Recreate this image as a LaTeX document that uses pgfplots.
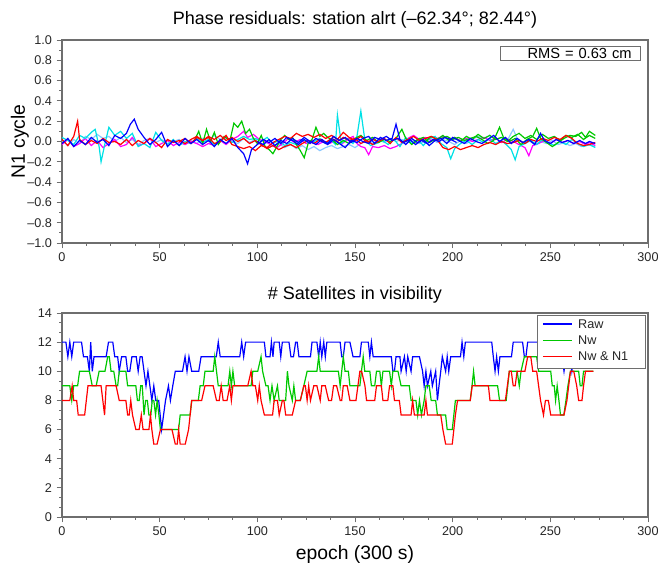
\documentclass[border=0pt]{standalone}
\usepackage{fontspec}
\setmainfont{Liberation Sans}
\usepackage{pgfplots}
\pgfplotsset{compat=1.18}

\definecolor{resBlue}{RGB}{0,0,255}
\definecolor{resRed}{RGB}{255,0,0}
\definecolor{resGreen}{RGB}{0,200,0}
\definecolor{resCyan}{RGB}{0,225,230}
\definecolor{resMagenta}{RGB}{255,0,255}
\definecolor{resSky}{RGB}{140,200,255}
\definecolor{frameGray}{RGB}{110,110,110}

\pgfplotsset{
  scilab/.style={
    scale only axis,
    width=439.5pt,
    xmin=0, xmax=300,
    xtick={0,50,...,300},
    minor x tick num=3,
    tick align=outside,
    xtick pos=left, ytick pos=left,
    major tick length=4pt, minor tick length=2.2pt,
    axis line style={frameGray, line width=1pt},
    tick style={frameGray, line width=0.7pt},
    tick label style={font=\fontsize{9.5}{10}\selectfont, text=black!85},
    /pgf/number format/assume math mode=true,
    title style={font=\fontsize{13.5}{14}\selectfont, anchor=center, yshift=0pt},
    label style={font=\fontsize{14.5}{15}\selectfont},
    clip=true,
  },
}

\begin{document}
\begin{tikzpicture}
% ---------------- top: phase residuals ----------------
\begin{axis}[
  scilab,
  at={(46.5pt,242.25pt)}, anchor=south west,
  height=152.25pt,
  ymin=-1, ymax=1,
  ytick={-1,-0.8,-0.6,-0.4,-0.2,0,0.2,0.4,0.6,0.8,1},
  yticklabels={–1.0,–0.8,–0.6,–0.4,–0.2,0.0,0.2,0.4,0.6,0.8,1.0},
  minor y tick num=1,
  title={Phase residuals: station alrt (–62.34°; 82.44°)},
  title style={at={(axis description cs:0.5,1.059)}},
  ylabel={N1 cycle},
  ylabel style={at={(axis description cs:-0.0717,0.5)}, anchor=center},
  every axis plot/.append style={line width=0.9pt},
]
\addplot[resSky] coordinates {
(0,0.01)(3,-0.04)(6,0.02)(9,-0.02)(12,0.05)(15,0.02)(18,0.07)(21,0.03)(24,0.05)(27,0.0)
(30,0.04)(33,-0.01)(36,0.02)(39,-0.03)(42,0.01)(45,0.03)(48,-0.01)(51,0.02)(54,-0.02)(57,0.0)
(60,0.02)(63,-0.03)(66,0.01)(69,-0.02)(72,0.03)(75,0.0)(78,0.06)(81,0.02)(84,0.04)(87,0.0)
(90,-0.02)(93,0.03)(96,-0.01)(99,0.02)(102,-0.04)(105,-0.01)(108,-0.05)(111,-0.02)(114,-0.06)(117,-0.03)
(120,-0.07)(123,-0.04)(126,-0.08)(129,-0.05)(132,-0.09)(135,-0.06)(138,-0.04)(141,-0.07)(144,-0.05)(147,-0.03)
(150,-0.06)(153,-0.02)(156,0.01)(159,-0.02)(162,0.02)(165,-0.01)(168,0.03)(171,0.0)(174,0.02)(177,-0.01)
(180,0.01)(183,-0.02)(186,0.0)(189,0.03)(192,-0.01)(195,0.02)(198,0.0)(201,-0.03)(204,0.01)(207,-0.02)
(210,0.02)(213,0.05)(216,0.03)(219,0.06)(222,0.02)(225,0.04)(228,0.01)(231,0.12)(233,0.03)(236,-0.02)
(239,0.01)(242,-0.03)(245,0.0)(248,-0.02)(251,0.01)(254,-0.03)(257,-0.01)(260,-0.04)(263,-0.02)(266,-0.05)
(269,-0.03)(273,-0.05)
};
\addplot[resMagenta] coordinates {
(0,-0.03)(3,0.02)(6,-0.05)(9,-0.02)(12,0.03)(15,-0.04)(18,0.01)(21,-0.06)(24,-0.02)(27,0.02)
(30,-0.05)(33,-0.03)(36,0.04)(39,-0.04)(42,-0.02)(45,0.03)(48,-0.05)(51,-0.02)(54,0.01)(57,-0.04)
(60,-0.01)(63,-0.03)(66,0.0)(69,-0.02)(72,-0.05)(75,-0.02)(78,-0.04)(81,0.01)(84,-0.03)(87,0.02)
(90,0.05)(93,0.1)(95,0.04)(98,0.07)(101,0.02)(104,0.0)(107,-0.03)(110,-0.06)(113,-0.02)(116,0.03)
(119,-0.01)(122,0.02)(125,-0.02)(128,0.01)(131,-0.03)(134,0.0)(137,-0.02)(140,0.01)(143,-0.03)(146,0.02)
(149,0.05)(151,-0.02)(153,-0.05)(155,-0.06)(157,-0.13)(159,-0.05)(162,-0.06)(165,-0.04)(168,-0.07)(171,-0.05)
(174,-0.02)(177,0.03)(180,0.06)(183,0.02)(186,0.04)(189,0.01)(192,0.03)(195,0.05)(198,0.02)(201,0.04)
(204,0.01)(207,0.03)(210,0.0)(213,0.02)(216,0.04)(219,0.01)(222,0.03)(225,-0.01)(228,0.02)(231,0.0)
(234,-0.03)(237,-0.06)(239,-0.14)(241,-0.04)(244,-0.02)(247,0.01)(250,-0.02)(253,0.02)(256,-0.01)(259,0.01)
(262,-0.02)(265,0.0)(268,-0.03)(270,-0.01)(273,-0.04)
};
\addplot[resCyan] coordinates {
(0,0.04)(3,0.01)(6,-0.03)(9,0.06)(12,0.03)(15,0.09)(17,0.12)(19,-0.05)(20,-0.2)(22,-0.02)
(24,0.14)(27,0.06)(30,0.1)(33,0.03)(36,0.08)(39,-0.05)(42,-0.02)(45,-0.06)(48,0.09)(51,0.01)
(54,-0.03)(57,0.02)(60,-0.04)(63,0.0)(66,-0.02)(69,0.03)(72,-0.01)(75,0.02)(78,-0.03)(81,0.01)
(84,0.04)(87,-0.01)(90,0.02)(93,0.05)(96,0.02)(99,0.03)(102,0.0)(105,0.04)(108,-0.02)(111,0.01)
(114,-0.04)(117,-0.01)(120,-0.03)(123,0.02)(126,-0.01)(129,0.0)(132,0.03)(135,-0.02)(138,0.01)(140,-0.03)
(141,0.26)(143,-0.02)(146,0.03)(149,-0.02)(151,0.05)(153,0.3)(155,0.02)(158,-0.04)(161,-0.02)(164,0.01)
(167,-0.03)(170,0.02)(173,-0.05)(176,0.04)(179,-0.02)(182,0.02)(185,-0.04)(188,0.03)(191,0.05)(194,-0.02)
(197,-0.06)(199,-0.17)(201,-0.07)(204,-0.02)(207,0.01)(210,-0.03)(213,0.02)(216,-0.01)(219,0.03)(222,-0.02)
(225,0.01)(228,-0.04)(230,-0.08)(232,-0.18)(234,-0.05)(237,-0.02)(240,0.01)(243,-0.03)(246,0.02)(249,-0.01)
(252,-0.04)(255,0.0)(258,-0.03)(261,0.02)(264,-0.02)(267,-0.05)(270,-0.03)(273,-0.06)
};
\addplot[resGreen] coordinates {
(68,0.02)(70,0.1)(72,-0.02)(74,0.12)(76,0.0)(78,0.09)(80,-0.03)(83,0.05)(86,0.01)(88,0.18)
(90,0.14)(92,0.2)(94,0.08)(96,0.12)(98,0.03)(100,-0.02)(102,0.06)(104,-0.05)(106,-0.08)(108,-0.12)
(110,-0.05)(112,0.02)(114,0.06)(116,0.02)(118,0.04)(120,-0.03)(122,-0.09)(124,-0.16)(126,-0.02)(128,0.02)
(130,0.14)(132,0.05)(134,0.08)(136,0.04)(138,0.02)(141,-0.03)(144,0.01)(147,-0.02)(150,0.03)(153,0.06)
(156,0.01)(159,0.04)(162,-0.01)(165,0.02)(168,0.0)(171,0.03)(174,0.12)(176,0.03)(179,-0.03)(182,0.02)
(185,0.04)(188,-0.01)(191,0.02)(194,0.03)(197,0.05)(200,0.02)(203,0.04)(206,0.01)(209,0.03)(212,0.05)
(215,0.02)(218,-0.02)(221,0.01)(224,0.14)(226,0.04)(229,0.0)(232,0.03)(235,-0.03)(238,0.02)(241,0.05)
(243,0.13)(245,0.03)(248,-0.01)(251,-0.05)(254,-0.01)(257,0.03)(260,0.06)(263,0.05)(266,0.09)(268,0.04)
(270,0.1)(273,0.06)
};
\addplot[resGreen] coordinates {
(180,-0.02)(183,0.03)(186,0.0)(189,0.05)(192,0.02)(195,0.06)(198,0.01)(201,0.04)(204,0.0)(207,0.05)
(210,0.02)(213,0.07)(216,0.03)(219,0.06)(222,0.02)(225,0.04)(228,0.0)(231,0.05)(234,0.08)(237,0.03)
(240,0.06)(243,0.02)(246,0.07)(249,0.03)(252,0.05)(255,0.01)(258,0.06)(261,0.04)(264,0.07)(267,0.02)
(270,0.06)(273,0.03)
};
\addplot[resRed] coordinates {
(0,0.02)(3,-0.04)(6,0.05)(8,0.2)(9,0.02)(12,-0.03)(15,0.01)(18,-0.02)(21,0.03)(24,-0.01)
(27,0.0)(30,-0.03)(33,0.02)(36,-0.04)(39,0.01)(42,-0.02)(45,0.03)(48,-0.01)(51,-0.06)(54,0.02)
(57,-0.01)(60,0.01)(63,-0.02)(66,0.02)(69,0.05)(72,0.01)(75,0.04)(78,-0.02)(81,0.0)(84,0.06)
(87,-0.03)(90,-0.05)(93,-0.07)(96,-0.05)(99,-0.09)(102,-0.04)(105,-0.06)(108,-0.01)(111,0.02)(114,0.05)
(117,0.03)(120,0.08)(123,0.05)(126,0.07)(129,0.04)(132,0.07)(135,0.03)(138,0.06)(141,0.02)(144,0.09)
(147,0.04)(150,0.01)(153,0.05)(156,-0.01)(159,0.02)(162,0.0)(165,0.03)(168,-0.02)(171,0.04)(174,-0.01)
(177,0.02)(180,0.05)(183,0.01)(186,0.03)(189,0.05)(192,0.02)(195,-0.06)(198,-0.08)(201,-0.05)(204,-0.08)
(207,-0.06)(210,-0.04)(213,-0.06)(216,-0.03)(219,-0.01)(222,-0.03)(225,0.0)(228,-0.02)(231,-0.01)(234,0.01)
(237,-0.02)(240,0.02)(243,0.0)(246,0.03)(249,0.01)(252,0.04)(255,0.02)(258,0.06)(261,0.03)(264,-0.02)
(267,-0.04)(270,-0.03)(273,-0.01)
};
\addplot[resRed] coordinates {
(60,0.0)(63,0.03)(66,-0.02)(69,0.04)(72,0.01)(75,0.05)(78,0.02)(81,0.06)(84,0.01)(87,0.04)
(90,0.0)(93,0.03)(96,-0.02)(99,0.01)(102,-0.03)(105,-0.07)(108,-0.04)(111,-0.08)(114,-0.05)(117,-0.03)
(120,-0.06)(123,-0.02)(126,0.01)(129,-0.02)(132,0.02)(135,-0.01)(138,0.03)(141,0.0)(144,0.04)(147,0.01)
(150,0.03)(153,-0.02)(156,0.01)(159,-0.03)(162,0.0)
};
\addplot[resBlue] coordinates {
(100,0.0)(103,-0.03)(106,0.02)(109,-0.04)(112,0.01)(115,-0.02)(118,0.03)(121,-0.01)(124,0.04)(127,0.0)
(130,-0.03)(133,0.02)(136,-0.02)(139,0.05)(142,0.01)(145,0.04)(148,-0.01)(151,0.03)(154,0.0)(157,-0.02)
(160,0.04)(163,0.02)(166,0.05)(169,0.01)(172,0.03)(175,-0.01)(178,0.02)(181,-0.03)(184,0.01)(187,-0.02)
(190,0.02)(193,0.0)(196,0.04)(199,0.02)(202,-0.01)
};
\addplot[resBlue] coordinates {
(0,-0.02)(3,0.03)(6,-0.05)(9,0.01)(12,-0.03)(15,0.04)(18,-0.01)(21,0.02)(24,-0.04)(27,0.06)
(30,0.03)(33,0.08)(35,0.17)(37,0.22)(39,0.12)(42,0.04)(45,-0.03)(48,0.02)(51,0.09)(54,-0.05)
(57,0.01)(60,-0.04)(63,0.03)(66,-0.02)(69,0.02)(72,-0.03)(75,0.01)(78,-0.05)(81,0.02)(84,-0.02)
(87,0.03)(90,-0.06)(93,-0.12)(95,-0.22)(97,-0.08)(100,-0.03)(103,0.02)(106,-0.01)(109,0.03)(112,-0.02)
(115,0.04)(118,0.01)(121,-0.03)(124,0.02)(127,-0.02)(130,0.03)(133,0.0)(136,-0.03)(139,0.02)(142,-0.02)
(145,-0.06)(148,0.01)(151,-0.01)(154,0.03)(157,0.05)(160,-0.02)(163,0.04)(166,0.01)(169,0.03)(171,0.17)
(173,0.02)(176,-0.03)(179,0.03)(182,-0.01)(185,0.02)(188,-0.04)(191,0.01)(194,0.03)(197,-0.02)(200,0.04)
(203,0.01)(206,-0.02)(209,0.03)(212,0.0)(215,-0.02)(218,0.02)(221,0.06)(224,0.0)(227,0.04)(230,-0.02)
(233,0.03)(236,-0.01)(239,0.02)(242,-0.03)(245,0.08)(247,0.01)(250,-0.02)(253,0.02)(256,-0.01)(259,0.01)
(262,-0.02)(265,0.01)(268,-0.02)(270,0.0)(273,-0.02)
};
\node[draw=frameGray, line width=0.6pt, anchor=north east, text width=92pt,
      inner xsep=6.75pt, inner ysep=1.2pt, minimum height=10.5pt, align=right,
      font=\fontsize{11}{12}\selectfont, fill=white]
  at (rel axis cs:0.988,0.97) {RMS = 0.63 cm};
\end{axis}

% ---------------- bottom: satellites in visibility ----------------
\begin{axis}[
  scilab,
  at={(46.5pt,36.75pt)}, anchor=south west,
  height=153pt,
  ymin=0, ymax=14,
  ytick={0,2,...,14},
  minor y tick num=2,
  title={\# Satellites in visibility},
  title style={at={(axis description cs:0.5,1.049)}},
  xlabel={epoch (300 s)},
  xlabel style={at={(axis description cs:0.5,-0.185)}, anchor=center},
  every axis plot/.append style={line width=0.9pt},
]
\addplot[resBlue] coordinates {
(0,12)(2,12)(3,11)(4,12)(5,11)(6,12)(10,12)(11,11)(13,11)(14,10)(14.7,12)(15.5,10)(16.4,11)
(22.6,11)(23.8,12)(26,12)(27,11)(28.5,11)(29.3,10)(30.5,11)(32.7,11)(33.6,10)(34.7,10)(35.8,11)
(38,11)(39,10)(40,11)(41,11)(42,10)(43,9)(44,10)(45,9)(46,8)(47,9)(48,8)(49.5,8)(51,6)(52,7)
(53,8)(54.5,9)(55.5,8)(56.7,9)(58,10)(61.7,10)(63,11)(64,10)(65,11)(66.4,10)(70,10)(71.2,11)
(79,11)(80,12)(81,11)(91,11)(92,12)(93,11)(94,12)(103.6,12)(104.4,11)(106.5,11)(107.2,12)(108,11)
(108.6,12)(111.2,12)(112,11)(112.8,12)(116.2,12)(117.2,11)(118.5,11)(119.6,12)(120.4,12)(121.3,11)
(127.2,11)(128,12)(130.5,12)(131.4,11)(132.2,12)(133,11)(134,12)(134.8,11)(135.6,12)(142.4,12)
(143.2,11)(144,11)(144.9,12)(147.4,12)(149,11)(152.5,11)(153.3,12)(156.8,12)(157.6,11)(158.4,12)
(159.3,11)(168.6,11)(169.4,10)(170.2,10)(171,11)(173,11)(173.6,10)(175.3,11)(176.2,10)(177,11)
(178.7,10)(179.5,11)(183,11)(184.6,10)(185.4,9)(186.3,10)(187.1,9)(188.8,10)(189.6,9)(191.3,10)
(192.2,8)(193,9)(193.9,10)(194.7,11)(196.4,10)(197.2,11)(198,10)(199,11)(204,11)(204.8,12)
(205.7,11)(206.5,12)(220,12)(220.8,11)(221.7,10)(222.5,11)(223.4,10)(224.2,11)(230.1,11)(231,12)
(235.8,12)(236.7,11)(237.5,11)(238.4,12)(250,12)(251,11)(252,12)(255,12)(256,11)(257,10)(258,11)
(260,11)(261,10)(262,11)(272,11)
};
\addplot[resGreen] coordinates {
(0,9)(4,9)(5,8)(6,9)(8,9)(9,10)(14,10)(15.5,9)(17.5,9)(19,10)(22,10)(23.4,11)(24.2,11)(25.1,10)
(26.5,10)(27.7,9)(28.5,9)(29.3,10)(32.7,10)(33.6,9)(37.8,9)(38.6,8)(39.5,8)(40.3,9)(41.1,9)(42,7)
(42.8,8)(43.7,8)(44.5,7)(45.5,7)(46.2,8)(47,8)(47.9,7)(48.7,8)(49.6,7)(50.4,6)(59.7,6)(60.5,7)
(65.6,7)(66.4,8)(69.8,8)(70.7,9)(72.3,9)(73.2,10)(77.4,10)(78.2,11)(79.1,10)(80,9)(85,9)(85.9,10)
(86.7,9)(87.5,10)(88.4,9)(96.8,9)(97.7,10)(100.2,10)(101.9,11)(102.7,10)(104.4,9)(105.5,9)(106.5,8)
(107.5,9)(108.6,8)(110.3,9)(111.2,8)(114.5,8)(115.4,10)(116.2,9)(117.9,8)(118.7,9)(119.6,8)(122,8)
(123.8,9)(125.5,10)(130.5,10)(131.4,11)(132.2,10)(141.5,10)(142.4,9)(143.2,10)(144,11)(144.9,10)
(146.6,10)(147.4,9)(152.5,9)(153.3,10)(154.2,11)(155,10)(157.6,10)(158.4,9)(160.1,9)(161,10)
(162.7,10)(163.5,9)(164.3,10)(167.7,10)(168.6,9)(169.4,10)(172,10)(173.6,9)(177.8,9)(178.7,8)
(181.2,8)(182.1,7)(183,8)(184,7)(185.4,8)(186.3,9)(188,9)(189,8)(191.3,8)(192.2,7)(196.4,7)(197.2,6)
(199.8,6)(200.6,7)(201.4,8)(209,8)(209.9,9)(210.7,10)(211.5,9)(223,9)(224,8)(227.4,8)(228.2,9)
(229,10)(233,10)(234.1,9)(235,10)(236.7,11)(243,11)(244,10)(250.2,10)(251,9)(252,9)(252.7,8)
(253.5,9)(254.4,8)(255.2,7)(256.9,7)(258,8)(259,9)(260.3,10)(264.5,10)(265.3,9)(266.2,9)(267,10)(272,10)
};
\addplot[resRed] coordinates {
(0,8)(4,8)(5.2,9)(6,8)(7.5,8)(8.3,7)(11.6,7)(13.3,9)(20,9)(20.9,8)(21.8,7)(22.6,9)(27.7,9)(29.3,8)
(32.7,8)(33.6,7)(34.4,7)(35.2,8)(36.1,7)(37.8,6)(39.5,6)(40.6,7)(41.5,6)(44.5,6)(45.3,7)(46,6)(47,5)
(48.7,5)(50.4,6)(56.3,6)(58,5)(59,5)(59.7,6)(60.5,5)(63.1,5)(64.8,6)(65.6,7)(66.4,8)(71.5,8)(73.2,9)
(77.4,9)(79.1,8)(80.5,8)(81.5,9)(82.5,8)(84.5,8)(85.9,9)(86.7,8)(87.5,9)(95.1,9)(96.8,10)(97.7,9)
(99,9)(100.2,8)(101,9)(101.9,8)(103.6,7)(107.8,7)(108.6,8)(110.3,8)(111.2,7)(112.8,8)(113.6,8)
(114.5,7)(117.9,7)(119.6,8)(122,8)(123.8,9)(124.6,9)(125.5,8)(126.3,9)(127.2,8)(128.9,9)(130.5,9)
(132.2,8)(133,9)(134.8,9)(136.5,8)(138,8)(139,9)(140.6,9)(142.4,8)(143.2,8)(144,9)(146,9)(147.4,8)
(150.5,8)(151.5,9)(152.5,10)(153.4,10)(155.1,9)(155.9,8)(160.1,8)(161,9)(163.5,9)(164.3,8)(166.8,8)
(167.7,9)(169.4,9)(170.2,8)(172.7,8)(173.6,7)(178.7,7)(179.5,8)(180.4,7)(185.4,7)(186.3,8)(187.1,7)
(193.9,7)(195,6)(196.4,5)(199.8,5)(200.6,6)(201.4,7)(202.5,8)(209,8)(210,9)(218.3,9)(219.1,8)(227,8)
(228,9)(229,10)(230,10)(231,9)(232,9)(233,10)(237,10)(238.4,11)(240,11)(241,10)(243,10)(244,9)(245,8)
(246.5,7)(247.5,8)(249,8)(250.2,7)(257,7)(258.5,8)(259.4,9)(260.3,10)(262,10)(263.5,9)(264.5,8)
(266.2,8)(267,9)(268,10)(272,10)
};
% legend box (drawn by hand: matrix legends lose their colours under xdvipdfmx here)
\draw[frameGray, line width=0.6pt, fill=white]
  (rel axis cs:0.8106,0.730) rectangle (rel axis cs:0.9949,0.990);
\draw[resBlue, line width=0.9pt] (rel axis cs:0.8208,0.946) -- (rel axis cs:0.8703,0.946);
\draw[resGreen, line width=0.9pt] (rel axis cs:0.8208,0.866) -- (rel axis cs:0.8703,0.866);
\draw[resRed, line width=0.9pt] (rel axis cs:0.8208,0.788) -- (rel axis cs:0.8703,0.788);
\node[anchor=west, inner sep=0pt, font=\fontsize{9.5}{10}\selectfont, text=black!85]
  at (rel axis cs:0.8805,0.946) {Raw};
\node[anchor=west, inner sep=0pt, font=\fontsize{9.5}{10}\selectfont, text=black!85]
  at (rel axis cs:0.8805,0.866) {Nw};
\node[anchor=west, inner sep=0pt, font=\fontsize{9.5}{10}\selectfont, text=black!85]
  at (rel axis cs:0.8805,0.788) {Nw \& N1};
\end{axis}
\pgfresetboundingbox
\path (0pt,0pt) rectangle (493.5pt,424.5pt);
\end{tikzpicture}
\end{document}
